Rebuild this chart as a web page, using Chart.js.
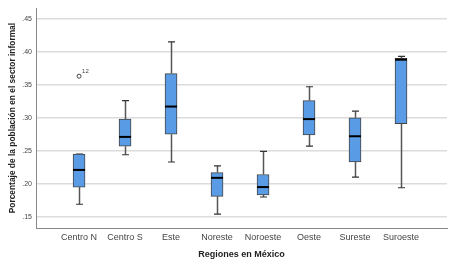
<!DOCTYPE html>
<html>
<head>
<meta charset="utf-8">
<script src="https://cdn.jsdelivr.net/npm/chart.js@4/dist/chart.umd.min.js"></script>
<style>
  body { margin: 0; background: #fff; }
  canvas { display: block; }
</style>
</head>
<body>
<canvas id="box-canvas" width="449" height="265"></canvas>
<script>
var regions = ['Centro N', 'Centro S', 'Este', 'Noreste', 'Noroeste', 'Oeste', 'Sureste', 'Suroeste'];

var mins    = [0.169, 0.244, 0.233, 0.154, 0.180, 0.257, 0.210, 0.194];
var q1s     = [0.195, 0.257, 0.275, 0.181, 0.183, 0.274, 0.233, 0.291];
var medians = [0.221, 0.271, 0.317, 0.209, 0.195, 0.298, 0.272, 0.388];
var q3s     = [0.245, 0.298, 0.367, 0.217, 0.214, 0.326, 0.300, 0.390];
var maxs    = [0.245, 0.326, 0.415, 0.227, 0.249, 0.347, 0.310, 0.393];

var outlierIdx = [0];
var outlierVals = [0.363];
var outlierLabels = ['12'];

var yTicks = [0.15, 0.20, 0.25, 0.30, 0.35, 0.40, 0.45];

var boxData = regions.map(function(r, i) {
    return { x: i, y: [q1s[i], q3s[i]] };
});

// whiskers, medians and outliers drawn around the floating bars
var boxExtras = {
    id: 'boxExtras',
    beforeDatasetsDraw: function(chart) {
        var ctx = chart.ctx;
        var xs = chart.scales.x, ys = chart.scales.y;
        ctx.save();
        for (var i = 0; i < regions.length; i++) {
            var x = Math.round(xs.getPixelForValue(i)) + 0.5;
            ctx.strokeStyle = '#555';
            ctx.lineWidth = 1.5;
            ctx.beginPath();
            ctx.moveTo(x, ys.getPixelForValue(maxs[i]));
            ctx.lineTo(x, ys.getPixelForValue(q3s[i]));
            ctx.moveTo(x, ys.getPixelForValue(q1s[i]));
            ctx.lineTo(x, ys.getPixelForValue(mins[i]));
            ctx.stroke();
            ctx.strokeStyle = '#333';
            ctx.lineWidth = 1.2;
            ctx.beginPath();
            [maxs[i], mins[i]].forEach(function(v) {
                var y = ys.getPixelForValue(v);
                ctx.moveTo(x - 3.5, y);
                ctx.lineTo(x + 3.5, y);
            });
            ctx.stroke();
        }
        ctx.restore();
    },
    afterDatasetsDraw: function(chart) {
        var ctx = chart.ctx;
        var xs = chart.scales.x, ys = chart.scales.y;
        ctx.save();
        ctx.strokeStyle = '#000';
        ctx.lineWidth = 2;
        for (var i = 0; i < regions.length; i++) {
            var x = xs.getPixelForValue(i);
            var y = ys.getPixelForValue(medians[i]);
            ctx.beginPath();
            ctx.moveTo(x - 6, y);
            ctx.lineTo(x + 6, y);
            ctx.stroke();
        }
        for (var j = 0; j < outlierIdx.length; j++) {
            var ox = xs.getPixelForValue(outlierIdx[j]);
            var oy = ys.getPixelForValue(outlierVals[j]);
            ctx.strokeStyle = '#444';
            ctx.lineWidth = 1;
            ctx.beginPath();
            ctx.arc(ox, oy, 2, 0, Math.PI * 2);
            ctx.stroke();
            ctx.fillStyle = '#444';
            ctx.font = '6px "Liberation Sans", Arial, sans-serif';
            ctx.textBaseline = 'middle';
            ctx.fillText(outlierLabels[j], ox + 3, oy - 5);
        }
        ctx.restore();
    }
};

var boxChart = new Chart(document.getElementById('box-canvas').getContext('2d'), {
    type: 'bar',
    data: {
        datasets: [{
            data: boxData,
            backgroundColor: '#5a9be6',
            borderColor: '#444',
            borderWidth: 1,
            borderSkipped: false,
            barThickness: 12
        }]
    },
    plugins: [boxExtras],
    options: {
        responsive: false,
        animation: false,
        layout: { padding: { top: 3, right: 2, left: 0, bottom: 0 } },
        plugins: {
            legend: { display: false },
            tooltip: { enabled: false }
        },
        scales: {
            x: {
                type: 'linear',
                offset: false,
                min: -0.936,
                max: 8.0,
                afterBuildTicks: function(scale) {
                    scale.ticks = regions.map(function(r, i) { return { value: i }; });
                },
                afterFit: function(scale) { scale.height = 37; },
                ticks: {
                    callback: function(v) { return regions[v]; },
                    color: '#444',
                    font: { size: 9, family: '"Liberation Sans", Arial, sans-serif' },
                    padding: 4,
                    maxRotation: 0,
                    autoSkip: false
                },
                grid: { display: false, drawTicks: false, offset: false },
                border: { color: '#888', width: 1 },
                title: {
                    display: true,
                    text: 'Regiones en México',
                    color: '#222',
                    font: { size: 9, weight: 'bold', family: '"Liberation Sans", Arial, sans-serif' },
                    padding: { top: 0, bottom: 5 }
                }
            },
            y: {
                min: 0.133,
                max: 0.466,
                afterBuildTicks: function(scale) {
                    scale.ticks = yTicks.map(function(v) { return { value: v }; });
                },
                afterFit: function(scale) { scale.width = 36; },
                ticks: {
                    callback: function(v) { return v.toFixed(2).replace(/^0/, ''); },
                    color: '#444',
                    font: { size: 7, family: '"Liberation Sans", Arial, sans-serif' },
                    padding: 4
                },
                grid: { color: '#dcdcdc', lineWidth: 1.5, drawTicks: false },
                border: { color: '#888', width: 1 },
                title: {
                    display: true,
                    text: 'Porcentaje de la población en el sector informal',
                    color: '#222',
                    font: { size: 8.4, weight: 'bold', family: '"Liberation Sans", Arial, sans-serif' },
                    padding: { top: 8, bottom: 0 }
                }
            }
        }
    }
});
</script>
</body>
</html>
